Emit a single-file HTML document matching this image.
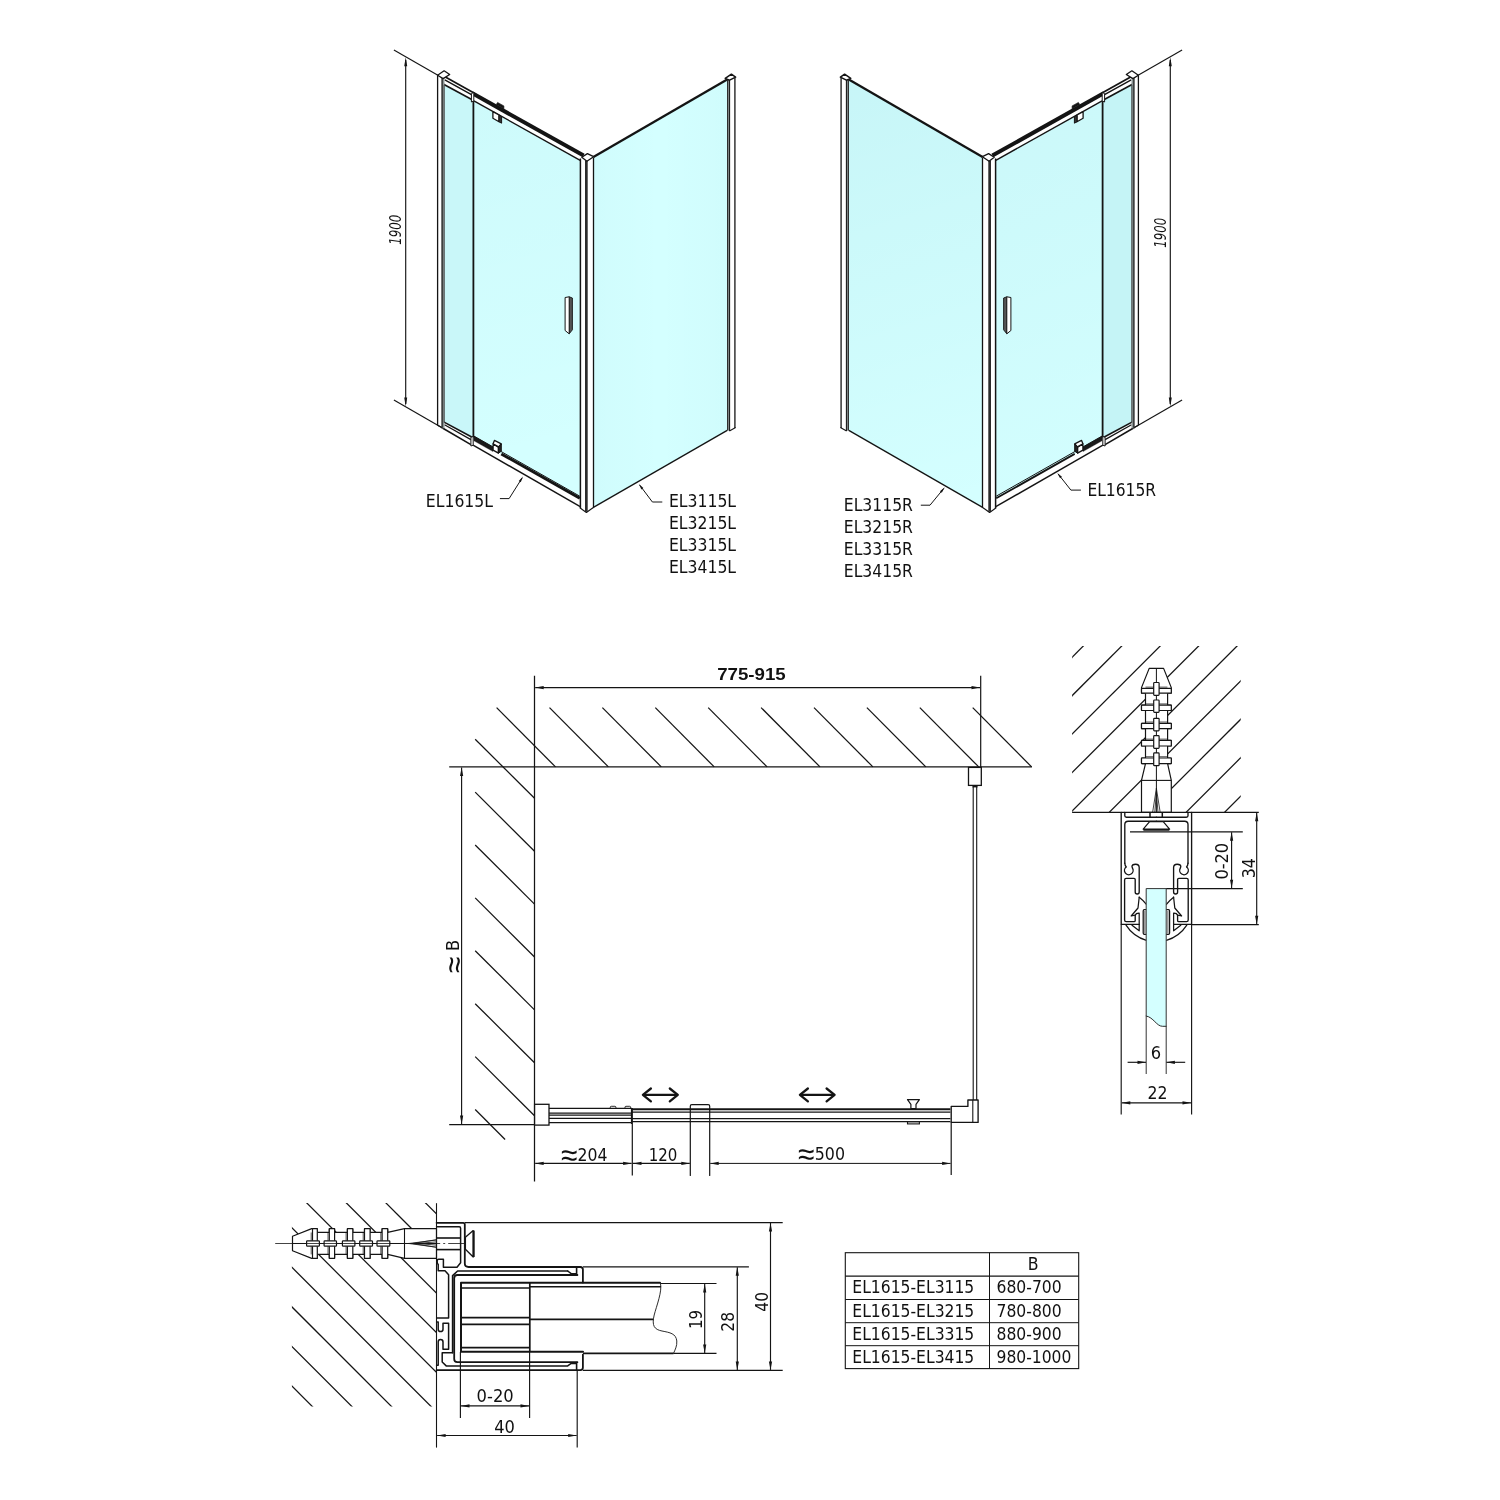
<!DOCTYPE html>
<html lang="en"><head><meta charset="utf-8"><title>Shower enclosure EL1615 / EL3x15 - dimensions</title>
<style>
html,body{margin:0;padding:0;background:#fff}
body{width:1500px;height:1500px;overflow:hidden}
svg{display:block;will-change:transform}
svg text{font-family:"DejaVu Sans Condensed","Liberation Sans",sans-serif;fill:#111}
</style></head><body>
<svg width="1500" height="1500" viewBox="0 0 1500 1500">
<rect width="1500" height="1500" fill="#fff"/>
<!-- iso -->
<g>
<g>
<linearGradient id="gLd" gradientUnits="userSpaceOnUse" x1="474" y1="100" x2="580" y2="450"><stop offset="0" stop-color="#006482" stop-opacity="0.03"/><stop offset="1" stop-color="#006482" stop-opacity="0"/></linearGradient>
<linearGradient id="gLs" gradientUnits="userSpaceOnUse" x1="593" y1="300" x2="727" y2="300"><stop offset="0" stop-color="#006482" stop-opacity="0.02"/><stop offset="0.5" stop-color="#006482" stop-opacity="0"/><stop offset="1" stop-color="#006482" stop-opacity="0.02"/></linearGradient>
<polygon points="593.4,157.3 727.2,79.6 727.2,430.4 593.4,507.4" fill="#d4ffff" stroke="#d4ffff" stroke-width="0.1" stroke-linejoin="round"/>
<polygon points="593.4,157.3 727.2,79.6 727.2,430.4 593.4,507.4" fill="url(#gLs)"/>
<line x1="593.4" y1="507.4" x2="727.2" y2="430.4" stroke="#141414" stroke-width="1.3"/>
<line x1="593.4" y1="157" x2="727.6" y2="79.2" stroke="#141414" stroke-width="2.3"/>
<polygon points="727.2,79.4 735,77.4 735,427.8 729.4,431 727.2,430.4" fill="#fff" stroke="#fff" stroke-width="0.1" stroke-linejoin="round"/>
<rect x="727.2" y="79.4" width="2.8" height="351.2" fill="#8a8f8f" stroke="#8a8f8f" stroke-width="0.1"/>
<line x1="727.6" y1="79.4" x2="727.6" y2="430.6" stroke="#141414" stroke-width="0.9"/>
<line x1="729.6" y1="80" x2="729.6" y2="431" stroke="#141414" stroke-width="1"/>
<line x1="734.9" y1="77.4" x2="734.9" y2="427.9" stroke="#333" stroke-width="1.5"/>
<line x1="729.4" y1="431" x2="735.6" y2="427.5" stroke="#141414" stroke-width="1.1"/>
<polygon points="725.2,78.4 731.4,74.2 735.6,77.2 729.6,80.2" fill="#fff" stroke="#141414" stroke-width="1.5" stroke-linejoin="round"/>
<polygon points="444,84.5 580.2,160.3 580.2,498.6 444,422.2" fill="#d4ffff" stroke="#d4ffff" stroke-width="0.1" stroke-linejoin="round"/>
<polygon points="444,84.5 473.4,100.8 473.4,437.6 444,422.2" fill="#006482" fill-opacity="0.05"/>
<polygon points="473.4,100.8 580.2,160.3 580.2,498.6 473.4,437.6" fill="url(#gLd)"/>
<line x1="473.4" y1="100.5" x2="473.4" y2="437.6" stroke="#141414" stroke-width="1.8"/>
<polygon points="443.1,77.2 444.5,76.5 585,154.9 580.2,160.3 443.1,84" fill="#fff" stroke="#fff" stroke-width="0.1" stroke-linejoin="round"/>
<line x1="444.5" y1="76.5" x2="474" y2="93" stroke="#141414" stroke-width="1.7"/>
<line x1="444.8" y1="79.8" x2="472.4" y2="95.1" stroke="#141414" stroke-width="1.4"/>
<line x1="443.1" y1="84" x2="471.7" y2="99.5" stroke="#141414" stroke-width="1.6"/>
<line x1="472.4" y1="93.3" x2="583.6" y2="155.6" stroke="#141414" stroke-width="4"/>
<line x1="473.9" y1="100.9" x2="580.2" y2="160.3" stroke="#141414" stroke-width="1.4"/>
<polygon points="471.4,93.6 473.8,92.4 473.8,100.8 471.4,102" fill="#fff" stroke="#141414" stroke-width="1" stroke-linejoin="round"/>
<polygon points="496.3,104.4 497.6,102.4 503.9,105.9 503.9,108.8" fill="#151515" stroke="#141414" stroke-width="0.6" stroke-linejoin="round"/>
<polygon points="492.9,111.6 499,115 499,121.8 492.9,118.3" fill="#fff" stroke="#141414" stroke-width="1.3" stroke-linejoin="round"/>
<polygon points="499,115.2 501.6,116.6 501.6,123.2 499,121.8" fill="#333" stroke="#141414" stroke-width="1" stroke-linejoin="round"/>
<polygon points="443.1,421.6 580.2,498.6 580.2,506.7 441.6,427.5" fill="#fff" stroke="#fff" stroke-width="0.1" stroke-linejoin="round"/>
<line x1="443.1" y1="421.6" x2="471.7" y2="437" stroke="#141414" stroke-width="1.6"/>
<line x1="444.5" y1="424.8" x2="470.9" y2="439.6" stroke="#141414" stroke-width="1.3"/>
<line x1="441.6" y1="427.5" x2="470.9" y2="444.6" stroke="#141414" stroke-width="1.6"/>
<polygon points="473.9,436.1 493,446.9 493,451.6 473.9,440.8" fill="#1a1a1a" stroke="#141414" stroke-width="0.3" stroke-linejoin="round"/>
<line x1="473.9" y1="436.1" x2="579.8" y2="496.2" stroke="#141414" stroke-width="1"/>
<line x1="501.3" y1="453.9" x2="579.8" y2="498.3" stroke="#141414" stroke-width="2.9"/>
<line x1="473.1" y1="445.1" x2="580.2" y2="506.7" stroke="#141414" stroke-width="1.4"/>
<polygon points="470.9,437.4 473.2,436.4 473.2,445.2 470.9,446" fill="#fff" stroke="#141414" stroke-width="1" stroke-linejoin="round"/>
<polygon points="493.1,444 498.4,447.2 498.4,453.1 493.1,450.1" fill="#fff" stroke="#141414" stroke-width="1.3" stroke-linejoin="round"/>
<polygon points="493.1,443.7 494.4,440.4 501.3,443.8 498.6,446.9" fill="#fff" stroke="#141414" stroke-width="1.3" stroke-linejoin="round"/>
<polygon points="498.4,447.2 501.3,444 501.3,451.2 498.4,453.3" fill="#222" stroke="#141414" stroke-width="1" stroke-linejoin="round"/>
<polygon points="437.6,75.2 443.1,78.4 443.1,428.4 437.6,425.2" fill="#fff" stroke="#fff" stroke-width="0.1" stroke-linejoin="round"/>
<rect x="441.6" y="78" width="2.8" height="350" fill="#8a9494" stroke="#8a9494" stroke-width="0.1"/>
<line x1="437.6" y1="75.2" x2="437.6" y2="425.2" stroke="#141414" stroke-width="1.3"/>
<line x1="442.1" y1="78.2" x2="442.1" y2="428" stroke="#141414" stroke-width="1.1"/>
<line x1="444.2" y1="85" x2="444.2" y2="422.6" stroke="#333" stroke-width="0.8"/>
<line x1="437.6" y1="425.2" x2="441.8" y2="427.6" stroke="#141414" stroke-width="1.1"/>
<polygon points="437.6,75.2 444.1,70.8 449.7,74.5 443.1,78.6" fill="#fff" stroke="#141414" stroke-width="1.3" stroke-linejoin="round"/>
<polygon points="580.2,158.6 586.8,161.4 593.4,157.6 593.4,507.4 586.4,512.5 580.2,508.1" fill="#fff" stroke="#fff" stroke-width="0.1" stroke-linejoin="round"/>
<line x1="580.4" y1="158.6" x2="580.4" y2="508.1" stroke="#141414" stroke-width="1.5"/>
<line x1="586.35" y1="160.8" x2="586.35" y2="511.8" stroke="#2c2c2c" stroke-width="2.7"/>
<line x1="593.5" y1="157.6" x2="593.5" y2="507.4" stroke="#141414" stroke-width="1.3"/>
<polyline points="580.2,508.1 586.4,512.5 593.4,507.4" fill="none" stroke="#141414" stroke-width="1.2" stroke-linejoin="round" stroke-linecap="round"/>
<polygon points="581.8,157.2 587.4,153.6 593.6,156.7 586.9,161.2" fill="#fff" stroke="#141414" stroke-width="1.3" stroke-linejoin="round"/>
<polygon points="569.2,296.8 572.4,298 572.4,329.8 569.2,333.8" fill="#555" stroke="#141414" stroke-width="0.9" stroke-linejoin="round"/>
<polygon points="565.1,297.5 569.2,296.8 569.2,333.8 565.1,330.5" fill="#fff" stroke="#141414" stroke-width="1" stroke-linejoin="round"/>
<line x1="393.9" y1="50" x2="437.9" y2="75.3" stroke="#141414" stroke-width="1.15"/>
<line x1="393.9" y1="399.9" x2="441.6" y2="427.5" stroke="#141414" stroke-width="1.15"/>
<line x1="405.7" y1="60" x2="405.7" y2="404" stroke="#141414" stroke-width="1.15"/>
<polygon points="405.7,57.2 407.2,66.2 404.2,66.2" fill="#141414"/>
<polygon points="405.7,406.6 404.2,397.6 407.2,397.6" fill="#141414"/>
</g>
<g transform="translate(1576 0) scale(-1 1)">
<linearGradient id="gRd" gradientUnits="userSpaceOnUse" x1="580" y1="160" x2="474" y2="440"><stop offset="0" stop-color="#006482" stop-opacity="0.04"/><stop offset="1" stop-color="#006482" stop-opacity="0.01"/></linearGradient>
<linearGradient id="gRs" gradientUnits="userSpaceOnUse" x1="728" y1="80" x2="594" y2="500"><stop offset="0" stop-color="#006482" stop-opacity="0.06"/><stop offset="1" stop-color="#006482" stop-opacity="0"/></linearGradient>
<polygon points="593.4,157.3 727.2,79.6 727.2,430.4 593.4,507.4" fill="#d4ffff" stroke="#d4ffff" stroke-width="0.1" stroke-linejoin="round"/>
<polygon points="593.4,157.3 727.2,79.6 727.2,430.4 593.4,507.4" fill="url(#gRs)"/>
<line x1="593.4" y1="507.4" x2="727.2" y2="430.4" stroke="#141414" stroke-width="1.3"/>
<line x1="593.4" y1="157" x2="727.6" y2="79.2" stroke="#141414" stroke-width="2.3"/>
<polygon points="727.2,79.4 735,77.4 735,427.8 729.4,431 727.2,430.4" fill="#fff" stroke="#fff" stroke-width="0.1" stroke-linejoin="round"/>
<rect x="727.2" y="79.4" width="2.8" height="351.2" fill="#8a8f8f" stroke="#8a8f8f" stroke-width="0.1"/>
<line x1="727.6" y1="79.4" x2="727.6" y2="430.6" stroke="#141414" stroke-width="0.9"/>
<line x1="729.6" y1="80" x2="729.6" y2="431" stroke="#141414" stroke-width="1"/>
<line x1="734.9" y1="77.4" x2="734.9" y2="427.9" stroke="#333" stroke-width="1.5"/>
<line x1="729.4" y1="431" x2="735.6" y2="427.5" stroke="#141414" stroke-width="1.1"/>
<polygon points="725.2,78.4 731.4,74.2 735.6,77.2 729.6,80.2" fill="#fff" stroke="#141414" stroke-width="1.5" stroke-linejoin="round"/>
<polygon points="444,84.5 580.2,160.3 580.2,498.6 444,422.2" fill="#d4ffff" stroke="#d4ffff" stroke-width="0.1" stroke-linejoin="round"/>
<polygon points="444,84.5 473.4,100.8 473.4,437.6 444,422.2" fill="#006482" fill-opacity="0.07"/>
<polygon points="473.4,100.8 580.2,160.3 580.2,498.6 473.4,437.6" fill="url(#gRd)"/>
<line x1="473.4" y1="100.5" x2="473.4" y2="437.6" stroke="#141414" stroke-width="1.8"/>
<polygon points="443.1,77.2 444.5,76.5 585,154.9 580.2,160.3 443.1,84" fill="#fff" stroke="#fff" stroke-width="0.1" stroke-linejoin="round"/>
<line x1="444.5" y1="76.5" x2="474" y2="93" stroke="#141414" stroke-width="1.7"/>
<line x1="444.8" y1="79.8" x2="472.4" y2="95.1" stroke="#141414" stroke-width="1.4"/>
<line x1="443.1" y1="84" x2="471.7" y2="99.5" stroke="#141414" stroke-width="1.6"/>
<line x1="472.4" y1="93.3" x2="583.6" y2="155.6" stroke="#141414" stroke-width="4"/>
<line x1="473.9" y1="100.9" x2="580.2" y2="160.3" stroke="#141414" stroke-width="1.4"/>
<polygon points="471.4,93.6 473.8,92.4 473.8,100.8 471.4,102" fill="#fff" stroke="#141414" stroke-width="1" stroke-linejoin="round"/>
<polygon points="496.3,104.4 497.6,102.4 503.9,105.9 503.9,108.8" fill="#151515" stroke="#141414" stroke-width="0.6" stroke-linejoin="round"/>
<polygon points="492.9,111.6 499,115 499,121.8 492.9,118.3" fill="#fff" stroke="#141414" stroke-width="1.3" stroke-linejoin="round"/>
<polygon points="499,115.2 501.6,116.6 501.6,123.2 499,121.8" fill="#333" stroke="#141414" stroke-width="1" stroke-linejoin="round"/>
<polygon points="443.1,421.6 580.2,498.6 580.2,506.7 441.6,427.5" fill="#fff" stroke="#fff" stroke-width="0.1" stroke-linejoin="round"/>
<line x1="443.1" y1="421.6" x2="471.7" y2="437" stroke="#141414" stroke-width="1.6"/>
<line x1="444.5" y1="424.8" x2="470.9" y2="439.6" stroke="#141414" stroke-width="1.3"/>
<line x1="441.6" y1="427.5" x2="470.9" y2="444.6" stroke="#141414" stroke-width="1.6"/>
<polygon points="473.9,436.1 493,446.9 493,451.6 473.9,440.8" fill="#1a1a1a" stroke="#141414" stroke-width="0.3" stroke-linejoin="round"/>
<line x1="473.9" y1="436.1" x2="579.8" y2="496.2" stroke="#141414" stroke-width="1"/>
<line x1="501.3" y1="453.9" x2="579.8" y2="498.3" stroke="#141414" stroke-width="1.8"/>
<line x1="473.1" y1="445.1" x2="580.2" y2="506.7" stroke="#141414" stroke-width="1.4"/>
<polygon points="470.9,437.4 473.2,436.4 473.2,445.2 470.9,446" fill="#fff" stroke="#141414" stroke-width="1" stroke-linejoin="round"/>
<polygon points="493.1,444 498.4,447.2 498.4,453.1 493.1,450.1" fill="#fff" stroke="#141414" stroke-width="1.3" stroke-linejoin="round"/>
<polygon points="493.1,443.7 494.4,440.4 501.3,443.8 498.6,446.9" fill="#fff" stroke="#141414" stroke-width="1.3" stroke-linejoin="round"/>
<polygon points="498.4,447.2 501.3,444 501.3,451.2 498.4,453.3" fill="#222" stroke="#141414" stroke-width="1" stroke-linejoin="round"/>
<polygon points="437.6,75.2 443.1,78.4 443.1,428.4 437.6,425.2" fill="#fff" stroke="#fff" stroke-width="0.1" stroke-linejoin="round"/>
<rect x="441.6" y="78" width="2.8" height="350" fill="#8a9494" stroke="#8a9494" stroke-width="0.1"/>
<line x1="437.6" y1="75.2" x2="437.6" y2="425.2" stroke="#141414" stroke-width="1.3"/>
<line x1="442.1" y1="78.2" x2="442.1" y2="428" stroke="#141414" stroke-width="1.1"/>
<line x1="444.2" y1="85" x2="444.2" y2="422.6" stroke="#333" stroke-width="0.8"/>
<line x1="437.6" y1="425.2" x2="441.8" y2="427.6" stroke="#141414" stroke-width="1.1"/>
<polygon points="437.6,75.2 444.1,70.8 449.7,74.5 443.1,78.6" fill="#fff" stroke="#141414" stroke-width="1.3" stroke-linejoin="round"/>
<polygon points="580.2,158.6 586.8,161.4 593.4,157.6 593.4,507.4 586.4,512.5 580.2,508.1" fill="#fff" stroke="#fff" stroke-width="0.1" stroke-linejoin="round"/>
<line x1="580.4" y1="158.6" x2="580.4" y2="508.1" stroke="#141414" stroke-width="1.5"/>
<line x1="586.35" y1="160.8" x2="586.35" y2="511.8" stroke="#2c2c2c" stroke-width="2.7"/>
<line x1="593.5" y1="157.6" x2="593.5" y2="507.4" stroke="#141414" stroke-width="1.3"/>
<polyline points="580.2,508.1 586.4,512.5 593.4,507.4" fill="none" stroke="#141414" stroke-width="1.2" stroke-linejoin="round" stroke-linecap="round"/>
<polygon points="581.8,157.2 587.4,153.6 593.6,156.7 586.9,161.2" fill="#fff" stroke="#141414" stroke-width="1.3" stroke-linejoin="round"/>
<polygon points="569.2,296.8 572.4,298 572.4,329.8 569.2,333.8" fill="#555" stroke="#141414" stroke-width="0.9" stroke-linejoin="round"/>
<polygon points="565.1,297.5 569.2,296.8 569.2,333.8 565.1,330.5" fill="#fff" stroke="#141414" stroke-width="1" stroke-linejoin="round"/>
<line x1="393.9" y1="50" x2="437.9" y2="75.3" stroke="#141414" stroke-width="1.15"/>
<line x1="393.9" y1="399.9" x2="441.6" y2="427.5" stroke="#141414" stroke-width="1.15"/>
<line x1="405.7" y1="60" x2="405.7" y2="404" stroke="#141414" stroke-width="1.15"/>
<polygon points="405.7,57.2 407.2,66.2 404.2,66.2" fill="#141414"/>
<polygon points="405.7,406.6 404.2,397.6 407.2,397.6" fill="#141414"/>
</g>
<text x="401" y="244.8" font-size="16.5" textLength="30.2" lengthAdjust="spacingAndGlyphs" font-style="italic" transform="rotate(-90 401 244.8)">1900</text>
<text x="1166.4" y="247.7" font-size="16.5" textLength="29.8" lengthAdjust="spacingAndGlyphs" font-style="italic" transform="rotate(-90 1166.4 247.7)">1900</text>
<text x="425.8" y="506.7" font-size="17" textLength="67.2" lengthAdjust="spacingAndGlyphs">EL1615L</text>
<polyline points="500.3,498.6 509.1,498.6 521.8,478.5" fill="none" stroke="#141414" stroke-width="1" stroke-linejoin="round" stroke-linecap="round"/>
<polygon points="523,476.6 520.81,482.31 518.78,481.03" fill="#141414"/>
<text x="668.9" y="507.1" font-size="17" textLength="67.2" lengthAdjust="spacingAndGlyphs">EL3115L</text>
<text x="668.9" y="529.1" font-size="17" textLength="67.2" lengthAdjust="spacingAndGlyphs">EL3215L</text>
<text x="668.9" y="551.1" font-size="17" textLength="67.2" lengthAdjust="spacingAndGlyphs">EL3315L</text>
<text x="668.9" y="573.1" font-size="17" textLength="67.2" lengthAdjust="spacingAndGlyphs">EL3415L</text>
<polyline points="661.9,502 652.4,502 640,485.5" fill="none" stroke="#141414" stroke-width="1" stroke-linejoin="round" stroke-linecap="round"/>
<polygon points="638.8,483.9 643.36,487.98 641.44,489.42" fill="#141414"/>
<text x="843.8" y="510.7" font-size="17" textLength="69.1" lengthAdjust="spacingAndGlyphs">EL3115R</text>
<text x="843.8" y="532.7" font-size="17" textLength="69.1" lengthAdjust="spacingAndGlyphs">EL3215R</text>
<text x="843.8" y="554.7" font-size="17" textLength="69.1" lengthAdjust="spacingAndGlyphs">EL3315R</text>
<text x="843.8" y="576.7" font-size="17" textLength="69.1" lengthAdjust="spacingAndGlyphs">EL3415R</text>
<polyline points="921.2,505.2 930,505.2 943.5,488.8" fill="none" stroke="#141414" stroke-width="1" stroke-linejoin="round" stroke-linecap="round"/>
<polygon points="944.7,487.3 941.82,492.7 939.96,491.17" fill="#141414"/>
<text x="1087.4" y="495.7" font-size="17" textLength="68.7" lengthAdjust="spacingAndGlyphs">EL1615R</text>
<polyline points="1080.5,490.1 1070.9,490.1 1058.5,474.4" fill="none" stroke="#141414" stroke-width="1" stroke-linejoin="round" stroke-linecap="round"/>
<polygon points="1057.3,472.9 1061.96,476.86 1060.08,478.35" fill="#141414"/>
</g>
<!-- plan -->
<g>
<line x1="496.6" y1="707.6" x2="555.5" y2="766.9" stroke="#141414" stroke-width="1.25"/>
<line x1="549.5" y1="707.6" x2="608.4" y2="766.9" stroke="#141414" stroke-width="1.25"/>
<line x1="602.4" y1="707.6" x2="661.3" y2="766.9" stroke="#141414" stroke-width="1.25"/>
<line x1="655.3" y1="707.6" x2="714.2" y2="766.9" stroke="#141414" stroke-width="1.25"/>
<line x1="708.2" y1="707.6" x2="767.1" y2="766.9" stroke="#141414" stroke-width="1.25"/>
<line x1="761.1" y1="707.6" x2="820" y2="766.9" stroke="#141414" stroke-width="1.25"/>
<line x1="814" y1="707.6" x2="872.9" y2="766.9" stroke="#141414" stroke-width="1.25"/>
<line x1="866.9" y1="707.6" x2="925.8" y2="766.9" stroke="#141414" stroke-width="1.25"/>
<line x1="919.8" y1="707.6" x2="978.7" y2="766.9" stroke="#141414" stroke-width="1.25"/>
<line x1="972.7" y1="707.6" x2="1031.6" y2="766.9" stroke="#141414" stroke-width="1.25"/>
<line x1="475.2" y1="739.2" x2="534.5" y2="798.3" stroke="#141414" stroke-width="1.25"/>
<line x1="475.2" y1="792.1" x2="534.5" y2="851.2" stroke="#141414" stroke-width="1.25"/>
<line x1="475.2" y1="845" x2="534.5" y2="904.1" stroke="#141414" stroke-width="1.25"/>
<line x1="475.2" y1="897.9" x2="534.5" y2="957" stroke="#141414" stroke-width="1.25"/>
<line x1="475.2" y1="950.8" x2="534.5" y2="1009.9" stroke="#141414" stroke-width="1.25"/>
<line x1="475.2" y1="1003.7" x2="534.5" y2="1062.8" stroke="#141414" stroke-width="1.25"/>
<line x1="475.2" y1="1056.6" x2="534.5" y2="1115.7" stroke="#141414" stroke-width="1.25"/>
<line x1="475.2" y1="1109.5" x2="505.1" y2="1139.5" stroke="#141414" stroke-width="1.25"/>
<line x1="534.5" y1="675.8" x2="534.5" y2="1181.5" stroke="#141414" stroke-width="1.25"/>
<line x1="449.2" y1="766.9" x2="1031.9" y2="766.9" stroke="#141414" stroke-width="1.3"/>
<line x1="980.7" y1="675.8" x2="980.7" y2="786" stroke="#141414" stroke-width="1.2"/>
<line x1="535.2" y1="687.6" x2="980" y2="687.6" stroke="#141414" stroke-width="1.15"/>
<polygon points="535.2,687.6 543.7,686 543.7,689.2" fill="#141414"/>
<polygon points="980,687.6 971.5,689.2 971.5,686" fill="#141414"/>
<text x="717.2" y="679.6" font-size="16.2" textLength="68.6" lengthAdjust="spacingAndGlyphs" font-weight="bold" style='font-family:"Liberation Sans",sans-serif'>775-915</text>
<line x1="449.2" y1="1124.6" x2="534.5" y2="1124.6" stroke="#141414" stroke-width="1.15"/>
<line x1="461.6" y1="767.6" x2="461.6" y2="1124" stroke="#141414" stroke-width="1.15"/>
<polygon points="461.6,767.6 463.2,776.1 460,776.1" fill="#141414"/>
<polygon points="461.6,1124 460,1115.5 463.2,1115.5" fill="#141414"/>
<text x="464.6" y="973.1" font-size="32" textLength="16.4" lengthAdjust="spacingAndGlyphs" style='font-family:"Liberation Sans",sans-serif' transform="rotate(-90 464.6 973.1)">≈</text>
<text x="459" y="951" font-size="18.2" transform="rotate(-90 459 951)">B</text>
<rect x="534.6" y="1104.3" width="14.4" height="20.8" fill="#fff" stroke="#141414" stroke-width="1.3"/>
<line x1="549" y1="1108.4" x2="631.6" y2="1108.4" stroke="#141414" stroke-width="1.2"/>
<line x1="549" y1="1113.1" x2="631.6" y2="1113.1" stroke="#141414" stroke-width="1.1"/>
<line x1="549" y1="1115.1" x2="631.6" y2="1115.1" stroke="#141414" stroke-width="1.1"/>
<line x1="549" y1="1118.4" x2="631.6" y2="1118.4" stroke="#141414" stroke-width="1.1"/>
<line x1="549" y1="1122.7" x2="631.6" y2="1122.7" stroke="#141414" stroke-width="1.2"/>
<path d="M610.3 1108.4V1107.2Q610.3 1106.3 611.3 1106.3H614.9Q615.9 1106.3 615.9 1107.2V1108.4" fill="none" stroke="#141414" stroke-width="0.9" stroke-linejoin="round" stroke-linecap="round"/>
<path d="M625 1108.4V1107.2Q625 1106.3 626 1106.3H629.6Q630.6 1106.3 630.6 1107.2V1108.4" fill="none" stroke="#141414" stroke-width="0.9" stroke-linejoin="round" stroke-linecap="round"/>
<line x1="631.6" y1="1109.3" x2="950.4" y2="1109.3" stroke="#141414" stroke-width="1.9"/>
<line x1="631.6" y1="1112.2" x2="950.4" y2="1112.2" stroke="#141414" stroke-width="1.3"/>
<line x1="631.6" y1="1118.7" x2="950.4" y2="1118.7" stroke="#141414" stroke-width="1.3"/>
<line x1="631.6" y1="1121.7" x2="950.4" y2="1121.7" stroke="#141414" stroke-width="1.3"/>
<line x1="631.9" y1="1108" x2="631.9" y2="1124" stroke="#141414" stroke-width="2"/>
<path d="M690.3 1175.5V1106.2Q690.3 1104.7 691.8 1104.7H708.2Q709.7 1104.7 709.7 1106.2V1175.5" fill="none" stroke="#141414" stroke-width="1.2" stroke-linejoin="round" stroke-linecap="round"/>
<line x1="632.3" y1="1124" x2="632.3" y2="1175.5" stroke="#141414" stroke-width="1.2"/>
<line x1="951.2" y1="1122.4" x2="951.2" y2="1175" stroke="#141414" stroke-width="1.2"/>
<line x1="535.2" y1="1163.4" x2="631.6" y2="1163.4" stroke="#141414" stroke-width="1.15"/>
<polygon points="535.2,1163.4 543.7,1161.8 543.7,1165" fill="#141414"/>
<polygon points="631.6,1163.4 623.1,1165 623.1,1161.8" fill="#141414"/>
<line x1="633" y1="1163.4" x2="689.8" y2="1163.4" stroke="#141414" stroke-width="1.15"/>
<polygon points="633,1163.4 641.5,1161.8 641.5,1165" fill="#141414"/>
<polygon points="689.8,1163.4 681.3,1165 681.3,1161.8" fill="#141414"/>
<line x1="710.2" y1="1163.4" x2="950.6" y2="1163.4" stroke="#141414" stroke-width="1"/>
<polygon points="710.2,1163.4 718.7,1161.8 718.7,1165" fill="#141414"/>
<polygon points="950.6,1163.4 942.1,1165 942.1,1161.8" fill="#141414"/>
<text x="560.9" y="1165.6" font-size="32" textLength="16.4" lengthAdjust="spacingAndGlyphs" style='font-family:"Liberation Sans",sans-serif'>≈</text>
<text x="577.6" y="1160.6" font-size="18" textLength="29.9" lengthAdjust="spacingAndGlyphs">204</text>
<text x="648.7" y="1160.6" font-size="18" textLength="28.6" lengthAdjust="spacingAndGlyphs">120</text>
<text x="797.9" y="1165.2" font-size="32" textLength="16.4" lengthAdjust="spacingAndGlyphs" style='font-family:"Liberation Sans",sans-serif'>≈</text>
<text x="814.8" y="1160.2" font-size="18" textLength="30.2" lengthAdjust="spacingAndGlyphs">500</text>
<line x1="643.3" y1="1094.9" x2="677.4" y2="1094.9" stroke="#141414" stroke-width="2.2"/>
<polyline points="650.9,1088.5 642.9,1094.9 650.9,1101.3" fill="none" stroke="#141414" stroke-width="2.3" stroke-linejoin="round" stroke-linecap="round" stroke-linecap="butt" stroke-linejoin="miter"/>
<polyline points="669.8,1088.5 677.8,1094.9 669.8,1101.3" fill="none" stroke="#141414" stroke-width="2.3" stroke-linejoin="round" stroke-linecap="round" stroke-linecap="butt" stroke-linejoin="miter"/>
<line x1="800.3" y1="1094.9" x2="834.2" y2="1094.9" stroke="#141414" stroke-width="2.2"/>
<polyline points="807.9,1088.5 799.9,1094.9 807.9,1101.3" fill="none" stroke="#141414" stroke-width="2.3" stroke-linejoin="round" stroke-linecap="round" stroke-linecap="butt" stroke-linejoin="miter"/>
<polyline points="826.6,1088.5 834.6,1094.9 826.6,1101.3" fill="none" stroke="#141414" stroke-width="2.3" stroke-linejoin="round" stroke-linecap="round" stroke-linecap="butt" stroke-linejoin="miter"/>
<polygon points="907.5,1099.6 919.4,1099.6 916,1104.3 916,1108.6 910.9,1108.6 910.9,1104.3" fill="#fff" stroke="#141414" stroke-width="1.2" stroke-linejoin="round"/>
<rect x="907.5" y="1121.9" width="11.9" height="2" fill="#fff" stroke="#141414" stroke-width="1.1"/>
<polygon points="951.2,1106.4 967.9,1106.4 967.9,1100 978.1,1100 978.1,1122.4 951.2,1122.4" fill="#fff" stroke="#141414" stroke-width="1.35" stroke-linejoin="round"/>
<line x1="972.8" y1="1100" x2="972.8" y2="1122.4" stroke="#141414" stroke-width="1.1"/>
<line x1="973.2" y1="787" x2="973.2" y2="1100" stroke="#141414" stroke-width="1.1"/>
<line x1="976.7" y1="787" x2="976.7" y2="1100" stroke="#141414" stroke-width="1.1"/>
<line x1="972.4" y1="786.6" x2="977.6" y2="786.6" stroke="#141414" stroke-width="1.6"/>
<rect x="968.5" y="767.4" width="12.8" height="18" fill="#fff" stroke="#141414" stroke-width="1.3"/>
</g>
<!-- detail_r -->
<g>
<clipPath id="hcR"><rect x="1072.1" y="646" width="168.6" height="166.4"/></clipPath>
<g clip-path="url(#hcR)"><line x1="1060" y1="669.3" x2="1250" y2="479.3" stroke="#141414" stroke-width="1.25"/><line x1="1060" y1="707.75" x2="1250" y2="517.75" stroke="#141414" stroke-width="1.25"/><line x1="1060" y1="746.2" x2="1250" y2="556.2" stroke="#141414" stroke-width="1.25"/><line x1="1060" y1="784.65" x2="1250" y2="594.65" stroke="#141414" stroke-width="1.25"/><line x1="1060" y1="823.1" x2="1250" y2="633.1" stroke="#141414" stroke-width="1.25"/><line x1="1060" y1="861.55" x2="1250" y2="671.55" stroke="#141414" stroke-width="1.25"/><line x1="1060" y1="900" x2="1250" y2="710" stroke="#141414" stroke-width="1.25"/><line x1="1060" y1="938.45" x2="1250" y2="748.45" stroke="#141414" stroke-width="1.25"/><line x1="1060" y1="976.9" x2="1250" y2="786.9" stroke="#141414" stroke-width="1.25"/></g>
<g id="dowel">
<path d="M1149.2 668.4H1163.6L1171.3 687.6V693.2H1167.6V705.2H1171.3V710.5H1167.6V723.3H1171.3V728.7H1167.6V740.4H1171.3V746H1167.6V758H1171.3V763.6H1167.6L1171.3 780.4V812.4H1141.5V780.4L1145.5 763.6H1141.5V758H1145.5V746H1141.5V740.4H1145.5V728.7H1141.5V723.3H1145.5V710.5H1141.5V705.2H1145.5V693.2H1141.5V687.6Z" fill="#fff" stroke="#141414" stroke-width="1.2" stroke-linejoin="round" stroke-linecap="round"/>
<rect x="1141.5" y="688.4" width="29.8" height="4.8" fill="#fff" stroke="#141414" stroke-width="1.2" rx="0.8"/>
<line x1="1145.5" y1="687.1" x2="1167.4" y2="687.1" stroke="#141414" stroke-width="0.7"/>
<rect x="1141.5" y="705.2" width="29.8" height="5.3" fill="#fff" stroke="#141414" stroke-width="1.2" rx="0.8"/>
<line x1="1145.5" y1="703.9" x2="1167.4" y2="703.9" stroke="#141414" stroke-width="0.7"/>
<rect x="1141.5" y="723.3" width="29.8" height="5.4" fill="#fff" stroke="#141414" stroke-width="1.2" rx="0.8"/>
<line x1="1145.5" y1="722" x2="1167.4" y2="722" stroke="#141414" stroke-width="0.7"/>
<rect x="1141.5" y="740.4" width="29.8" height="5.6" fill="#fff" stroke="#141414" stroke-width="1.2" rx="0.8"/>
<line x1="1145.5" y1="739.1" x2="1167.4" y2="739.1" stroke="#141414" stroke-width="0.7"/>
<rect x="1141.5" y="758" width="29.8" height="5.6" fill="#fff" stroke="#141414" stroke-width="1.2" rx="0.8"/>
<line x1="1145.5" y1="756.7" x2="1167.4" y2="756.7" stroke="#141414" stroke-width="0.7"/>
<line x1="1141.5" y1="780.4" x2="1171.3" y2="780.4" stroke="#141414" stroke-width="1.1"/>
<line x1="1156.4" y1="668.4" x2="1156.4" y2="812" stroke="#141414" stroke-width="1"/>
<rect x="1153.7" y="682.5" width="5.4" height="12.8" fill="#fff" stroke="#141414" stroke-width="1.2" rx="0.8"/>
<rect x="1153.7" y="700" width="5.4" height="12.4" fill="#fff" stroke="#141414" stroke-width="1.2" rx="0.8"/>
<rect x="1153.7" y="718.3" width="5.4" height="12.5" fill="#fff" stroke="#141414" stroke-width="1.2" rx="0.8"/>
<rect x="1153.7" y="735.6" width="5.4" height="12.8" fill="#fff" stroke="#141414" stroke-width="1.2" rx="0.8"/>
<rect x="1153.7" y="752.9" width="5.4" height="12.8" fill="#fff" stroke="#141414" stroke-width="1.2" rx="0.8"/>
<path d="M1156.4 788.4L1152.6 812.4M1156.4 788.4L1160.2 812.4M1156.4 792L1154.8 812.4M1156.4 792L1158.0 812.4" fill="none" stroke="#141414" stroke-width="0.8" stroke-linejoin="round" stroke-linecap="round"/>
</g>
<rect x="1121.2" y="812.4" width="70.4" height="112" fill="#fff" stroke="#fff" stroke-width="0.1"/>
<line x1="1072.1" y1="812.4" x2="1258.8" y2="812.4" stroke="#141414" stroke-width="1.3"/>
<path d="M1121.2 812.4 L1121.2 924.4 L1139.2 924.4" fill="none" stroke="#141414" stroke-width="1.35" stroke-linejoin="round" stroke-linecap="round"/>
<path d="M1124.8 812.4 L1124.8 815.8 Q1124.8 817.2 1126.4 817.2 L1156.4 817.2" fill="none" stroke="#141414" stroke-width="1.35" stroke-linejoin="round" stroke-linecap="round"/>
<path d="M1124.8 863.2 L1124.8 824.6 Q1124.8 821.2 1128.2 821.2 L1156.4 821.2" fill="none" stroke="#141414" stroke-width="1.35" stroke-linejoin="round" stroke-linecap="round"/>
<path d="M1124.8 863.2 Q1124.9 865.6 1126.3 866.9 A4.3 4.3 0 1 0 1132.5 868.2 L1132 866.6 Q1132 864.2 1135.6 864.2 Q1139.2 864.2 1139.2 867.6 L1139.2 892 A2 2 0 0 1 1135.2 892 L1135.2 879.6 Q1135.2 878.4 1134 878.4 L1126.2 878.4 Q1124.6 878.4 1124.6 880 L1124.6 920 Q1124.6 921.6 1126.2 921.6 L1134 921.6 Q1135.2 921.6 1135.2 920.4 L1135.2 915" fill="none" stroke="#141414" stroke-width="1.35" stroke-linejoin="round" stroke-linecap="round"/>
<path d="M1139.2 897.2 Q1143.4 900.4 1146.4 904.4" fill="none" stroke="#141414" stroke-width="1.25" stroke-linejoin="round" stroke-linecap="round"/>
<path d="M1139.2 897.2 L1138 908 L1131.2 916 L1135.2 915.2 Q1136 913 1139.2 913.2 L1139.2 930.8 L1132 925.2" fill="none" stroke="#141414" stroke-width="1.25" stroke-linejoin="round" stroke-linecap="round"/>
<path d="M1146.4 909.6 L1144.4 909.6 Q1143.2 909.6 1143.2 911 L1143.2 933 Q1143.2 934.4 1144.4 934.4 L1146.4 934.4" fill="none" stroke="#141414" stroke-width="1.25" stroke-linejoin="round" stroke-linecap="round"/>
<line x1="1144.9" y1="911" x2="1144.9" y2="933.4" stroke="#141414" stroke-width="0.7"/>
<path d="M1126 925.2 A36.1 36.1 0 0 0 1146.4 940.4" fill="none" stroke="#141414" stroke-width="1.25" stroke-linejoin="round" stroke-linecap="round"/>
<path d="M1191.6 812.4 L1191.6 924.4 L1173.6 924.4" fill="none" stroke="#141414" stroke-width="1.35" stroke-linejoin="round" stroke-linecap="round"/>
<path d="M1188 812.4 L1188 815.8 Q1188 817.2 1186.4 817.2 L1156.4 817.2" fill="none" stroke="#141414" stroke-width="1.35" stroke-linejoin="round" stroke-linecap="round"/>
<path d="M1188 863.2 L1188 824.6 Q1188 821.2 1184.6 821.2 L1156.4 821.2" fill="none" stroke="#141414" stroke-width="1.35" stroke-linejoin="round" stroke-linecap="round"/>
<path d="M1188 863.2 Q1187.9 865.6 1186.5 866.9 A4.3 4.3 0 1 1 1180.3 868.2 L1180.8 866.6 Q1180.8 864.2 1177.2 864.2 Q1173.6 864.2 1173.6 867.6 L1173.6 892 A2 2 0 0 0 1177.6 892 L1177.6 879.6 Q1177.6 878.4 1178.8 878.4 L1186.6 878.4 Q1188.2 878.4 1188.2 880 L1188.2 920 Q1188.2 921.6 1186.6 921.6 L1178.8 921.6 Q1177.6 921.6 1177.6 920.4 L1177.6 915" fill="none" stroke="#141414" stroke-width="1.35" stroke-linejoin="round" stroke-linecap="round"/>
<path d="M1173.6 897.2 Q1169.4 900.4 1166.4 904.4" fill="none" stroke="#141414" stroke-width="1.25" stroke-linejoin="round" stroke-linecap="round"/>
<path d="M1173.6 897.2 L1174.8 908 L1181.6 916 L1177.6 915.2 Q1176.8 913 1173.6 913.2 L1173.6 930.8 L1180.8 925.2" fill="none" stroke="#141414" stroke-width="1.25" stroke-linejoin="round" stroke-linecap="round"/>
<path d="M1166.4 909.6 L1168.4 909.6 Q1169.6 909.6 1169.6 911 L1169.6 933 Q1169.6 934.4 1168.4 934.4 L1166.4 934.4" fill="none" stroke="#141414" stroke-width="1.25" stroke-linejoin="round" stroke-linecap="round"/>
<line x1="1167.9" y1="911" x2="1167.9" y2="933.4" stroke="#141414" stroke-width="0.7"/>
<path d="M1186.8 925.2 A36.1 36.1 0 0 1 1166.4 940.4" fill="none" stroke="#141414" stroke-width="1.25" stroke-linejoin="round" stroke-linecap="round"/>
<line x1="1150" y1="812.4" x2="1150" y2="817.4" stroke="#141414" stroke-width="1.5"/>
<line x1="1162.3" y1="812.4" x2="1162.3" y2="817.4" stroke="#141414" stroke-width="1.5"/>
<polygon points="1149.6,821.6 1163.2,821.6 1169.6,829.2 1143.2,829.2" fill="#fff" stroke="#141414" stroke-width="1.2" stroke-linejoin="round"/>
<line x1="1143.4" y1="829.9" x2="1169.4" y2="829.9" stroke="#141414" stroke-width="1.7"/>
<path d="M1146.2 888.5H1166.2V1026.3H1162.5C1156.5 1026.3 1153.5 1017.2 1146.2 1016Z" fill="#d4ffff" stroke="#d4ffff" stroke-width="0.1" stroke-linejoin="round" stroke-linecap="round"/>
<path d="M1146.2 1016C1153.5 1017.2 1156.5 1026.3 1162.5 1026.3H1166.2" fill="none" stroke="#141414" stroke-width="0.9" stroke-linejoin="round" stroke-linecap="round"/>
<line x1="1146.2" y1="888.5" x2="1146.2" y2="1074" stroke="#333" stroke-width="1"/>
<line x1="1166.2" y1="888.5" x2="1166.2" y2="1074" stroke="#333" stroke-width="1"/>
<line x1="1146.2" y1="888.6" x2="1166.2" y2="888.6" stroke="#333" stroke-width="1"/>
<line x1="1130" y1="831.8" x2="1242.8" y2="831.8" stroke="#141414" stroke-width="1.15"/>
<line x1="1166.2" y1="888.6" x2="1242.8" y2="888.6" stroke="#141414" stroke-width="1.15"/>
<line x1="1231.6" y1="832.2" x2="1231.6" y2="888.2" stroke="#141414" stroke-width="1.15"/>
<polygon points="1231.6,832.2 1233.2,840.7 1230,840.7" fill="#141414"/>
<polygon points="1231.6,888.2 1230,879.7 1233.2,879.7" fill="#141414"/>
<line x1="1191.6" y1="924.6" x2="1258.8" y2="924.6" stroke="#141414" stroke-width="1.15"/>
<line x1="1256.7" y1="812.8" x2="1256.7" y2="924.2" stroke="#141414" stroke-width="1.15"/>
<polygon points="1256.7,812.8 1258.3,821.3 1255.1,821.3" fill="#141414"/>
<polygon points="1256.7,924.2 1255.1,915.7 1258.3,915.7" fill="#141414"/>
<text x="1227.6" y="879.6" font-size="17.5" textLength="36.8" lengthAdjust="spacingAndGlyphs" transform="rotate(-90 1227.6 879.6)">0-20</text>
<text x="1254.8" y="878.3" font-size="17.5" textLength="20.3" lengthAdjust="spacingAndGlyphs" transform="rotate(-90 1254.8 878.3)">34</text>
<line x1="1121.2" y1="924.4" x2="1121.2" y2="1114.5" stroke="#141414" stroke-width="1.15"/>
<line x1="1191.6" y1="924.4" x2="1191.6" y2="1114.5" stroke="#141414" stroke-width="1.15"/>
<line x1="1127.6" y1="1062.3" x2="1146" y2="1062.3" stroke="#141414" stroke-width="1.15"/>
<polygon points="1146,1062.3 1137.5,1063.9 1137.5,1060.7" fill="#141414"/>
<line x1="1185.2" y1="1062.3" x2="1166.4" y2="1062.3" stroke="#141414" stroke-width="1.15"/>
<polygon points="1166.4,1062.3 1174.9,1060.7 1174.9,1063.9" fill="#141414"/>
<text x="1150.8" y="1058.8" font-size="17.5" textLength="10.4" lengthAdjust="spacingAndGlyphs">6</text>
<line x1="1121.8" y1="1102.8" x2="1191" y2="1102.8" stroke="#141414" stroke-width="1.15"/>
<polygon points="1121.8,1102.8 1130.3,1101.2 1130.3,1104.4" fill="#141414"/>
<polygon points="1191,1102.8 1182.5,1104.4 1182.5,1101.2" fill="#141414"/>
<text x="1147.6" y="1099.3" font-size="17.5" textLength="20" lengthAdjust="spacingAndGlyphs">22</text>
</g>
<!-- detail_bl -->
<g>
<clipPath id="hcB"><rect x="291.9" y="1203" width="144.5" height="203.4"/></clipPath>
<g clip-path="url(#hcB)"><line x1="280" y1="1057.4" x2="445" y2="1222.4" stroke="#141414" stroke-width="1.25"/><line x1="280" y1="1097" x2="445" y2="1262" stroke="#141414" stroke-width="1.25"/><line x1="280" y1="1136.6" x2="445" y2="1301.6" stroke="#141414" stroke-width="1.25"/><line x1="280" y1="1176.2" x2="445" y2="1341.2" stroke="#141414" stroke-width="1.25"/><line x1="280" y1="1215.8" x2="445" y2="1380.8" stroke="#141414" stroke-width="1.25"/><line x1="280" y1="1255.4" x2="445" y2="1420.4" stroke="#141414" stroke-width="1.25"/><line x1="280" y1="1295" x2="445" y2="1460" stroke="#141414" stroke-width="1.25"/><line x1="280" y1="1334.6" x2="445" y2="1499.6" stroke="#141414" stroke-width="1.25"/><line x1="280" y1="1374.2" x2="445" y2="1539.2" stroke="#141414" stroke-width="1.25"/></g>
<use href="#dowel" transform="translate(436.5 1243.5) rotate(-90) translate(-1156.4 -812.4)"/>
<line x1="275.2" y1="1243.5" x2="472" y2="1243.5" stroke="#141414" stroke-width="0.8" stroke-dasharray="165 3 2 3 24 3 2 3"/>
<line x1="436.5" y1="1203.2" x2="436.5" y2="1447.6" stroke="#141414" stroke-width="1.1"/>
<path d="M436.6 1222.8H463.2Q464.8 1222.8 464.8 1224.4V1263.6Q464.8 1267 468.6 1267H580.4Q582.9 1267 582.9 1269.6V1282.6" fill="none" stroke="#141414" stroke-width="1.8" stroke-linejoin="round" stroke-linecap="round"/>
<path d="M436.6 1226.8H459.2Q460.6 1226.8 460.6 1228.2V1262.8L457 1267.2H443.4V1259.2H438.6Q437.2 1259.2 437.2 1260.6V1262.4Q437.2 1263.6 438.2 1264.4V1270.8H445L448.6 1274.8V1318H436.6" fill="none" stroke="#141414" stroke-width="1.5" stroke-linejoin="round" stroke-linecap="round"/>
<line x1="436.6" y1="1238" x2="460.4" y2="1238" stroke="#141414" stroke-width="1.6"/>
<line x1="436.6" y1="1249.6" x2="460.4" y2="1249.6" stroke="#141414" stroke-width="1.6"/>
<polygon points="465.4,1237.2 473.2,1230.6 473.2,1257 465.4,1249.2" fill="#fff" stroke="#141414" stroke-width="1.3" stroke-linejoin="round"/>
<line x1="473.7" y1="1230.6" x2="473.7" y2="1257" stroke="#141414" stroke-width="2"/>
<path d="M408.8 1243.5L436.5 1240M408.8 1243.5L436.5 1247.2" fill="none" stroke="#141414" stroke-width="0.8" stroke-linejoin="round" stroke-linecap="round"/>
<path d="M436.6 1322H438.2V1329.2A2.4 2.4 0 0 0 443 1329.2V1323.2H448.6V1349.2H443V1342A2.4 2.4 0 0 0 438.2 1342V1365.2H436.6" fill="none" stroke="#141414" stroke-width="1.5" stroke-linejoin="round" stroke-linecap="round"/>
<path d="M452.6 1352.8H442.2V1362L446.2 1365.9H567.7L571.2 1363.4H575.9" fill="none" stroke="#141414" stroke-width="1.5" stroke-linejoin="round" stroke-linecap="round"/>
<path d="M567.7 1271H457.6L452.6 1275.6V1352.8" fill="none" stroke="#141414" stroke-width="1.6" stroke-linejoin="round" stroke-linecap="round"/>
<path d="M567.7 1271L571.2 1273.7H575.9" fill="none" stroke="#141414" stroke-width="1.5" stroke-linejoin="round" stroke-linecap="round"/>
<line x1="576.6" y1="1266.8" x2="576.6" y2="1275.2" stroke="#141414" stroke-width="1.6"/>
<line x1="576.6" y1="1361.8" x2="576.6" y2="1370.4" stroke="#141414" stroke-width="1.6"/>
<path d="M436.6 1370.2H580.4Q582.9 1370.2 582.9 1367.6V1354.6" fill="none" stroke="#141414" stroke-width="1.8" stroke-linejoin="round" stroke-linecap="round"/>
<path d="M577.4 1275H457.4Q454.2 1275 454.2 1278.2V1359Q454.2 1362.2 457.4 1362.2H577.4" fill="none" stroke="#141414" stroke-width="1.8" stroke-linejoin="round" stroke-linecap="round"/>
<path d="M660 1282.8H461V1351.8H583" fill="none" stroke="#141414" stroke-width="2" stroke-linejoin="round" stroke-linecap="round"/>
<line x1="461" y1="1288" x2="529.8" y2="1288" stroke="#141414" stroke-width="1.6"/>
<line x1="461" y1="1317.6" x2="529.8" y2="1317.6" stroke="#141414" stroke-width="1.6"/>
<line x1="461" y1="1324.4" x2="529.8" y2="1324.4" stroke="#141414" stroke-width="1.6"/>
<line x1="461" y1="1347.6" x2="529.8" y2="1347.6" stroke="#141414" stroke-width="1.6"/>
<line x1="529.8" y1="1282.8" x2="529.8" y2="1351.8" stroke="#141414" stroke-width="1.7"/>
<line x1="529.8" y1="1286.7" x2="661" y2="1286.7" stroke="#141414" stroke-width="1.5"/>
<line x1="529.8" y1="1319.4" x2="653.4" y2="1319.4" stroke="#141414" stroke-width="1.6"/>
<line x1="583" y1="1353.4" x2="673.5" y2="1353.4" stroke="#141414" stroke-width="1.6"/>
<path d="M660.5 1283.5C662.5 1291 656.5 1306 654.2 1315C651.5 1326 654.5 1329.5 662 1331C670 1332.6 676 1333.5 676.8 1341C677.2 1346 675 1350 673.5 1353.4" fill="none" stroke="#141414" stroke-width="0.9" stroke-linejoin="round" stroke-linecap="round"/>
<line x1="464.8" y1="1222.6" x2="782.7" y2="1222.6" stroke="#141414" stroke-width="1.15"/>
<line x1="583" y1="1266.8" x2="748.9" y2="1266.8" stroke="#141414" stroke-width="1.15"/>
<line x1="660.5" y1="1283.5" x2="716.5" y2="1283.5" stroke="#141414" stroke-width="1.15"/>
<line x1="673.5" y1="1353.4" x2="716.5" y2="1353.4" stroke="#141414" stroke-width="1.15"/>
<line x1="583" y1="1370.3" x2="782.7" y2="1370.3" stroke="#141414" stroke-width="1.15"/>
<line x1="704.7" y1="1283.9" x2="704.7" y2="1353" stroke="#141414" stroke-width="1.15"/>
<polygon points="704.7,1283.9 706.3,1292.4 703.1,1292.4" fill="#141414"/>
<polygon points="704.7,1353 703.1,1344.5 706.3,1344.5" fill="#141414"/>
<line x1="737.3" y1="1267.2" x2="737.3" y2="1369.9" stroke="#141414" stroke-width="1.15"/>
<polygon points="737.3,1267.2 738.9,1275.7 735.7,1275.7" fill="#141414"/>
<polygon points="737.3,1369.9 735.7,1361.4 738.9,1361.4" fill="#141414"/>
<line x1="770.5" y1="1223" x2="770.5" y2="1369.9" stroke="#141414" stroke-width="1.15"/>
<polygon points="770.5,1223 772.1,1231.5 768.9,1231.5" fill="#141414"/>
<polygon points="770.5,1369.9 768.9,1361.4 772.1,1361.4" fill="#141414"/>
<text x="702.1" y="1329.1" font-size="17.5" textLength="19" lengthAdjust="spacingAndGlyphs" transform="rotate(-90 702.1 1329.1)">19</text>
<text x="734.1" y="1331.7" font-size="17.5" textLength="19.8" lengthAdjust="spacingAndGlyphs" transform="rotate(-90 734.1 1331.7)">28</text>
<text x="767.9" y="1311.7" font-size="17.5" textLength="19.8" lengthAdjust="spacingAndGlyphs" transform="rotate(-90 767.9 1311.7)">40</text>
<line x1="460.4" y1="1352" x2="460.4" y2="1417.9" stroke="#141414" stroke-width="1.15"/>
<line x1="529.6" y1="1352" x2="529.6" y2="1417.9" stroke="#141414" stroke-width="1.15"/>
<line x1="577.2" y1="1370.4" x2="577.2" y2="1447.6" stroke="#141414" stroke-width="1.15"/>
<line x1="461" y1="1405.9" x2="529" y2="1405.9" stroke="#141414" stroke-width="1.15"/>
<polygon points="461,1405.9 469.5,1404.3 469.5,1407.5" fill="#141414"/>
<polygon points="529,1405.9 520.5,1407.5 520.5,1404.3" fill="#141414"/>
<line x1="437.1" y1="1435.5" x2="576.7" y2="1435.5" stroke="#141414" stroke-width="1.15"/>
<polygon points="437.1,1435.5 445.6,1433.9 445.6,1437.1" fill="#141414"/>
<polygon points="576.7,1435.5 568.2,1437.1 568.2,1433.9" fill="#141414"/>
<text x="476.6" y="1401.8" font-size="17.5" textLength="37.1" lengthAdjust="spacingAndGlyphs">0-20</text>
<text x="494.2" y="1432.6" font-size="17.5" textLength="20.7" lengthAdjust="spacingAndGlyphs">40</text>
</g>
<!-- table -->
<g>
<rect x="845.3" y="1252.7" width="233.4" height="115.9" fill="#fff" stroke="#141414" stroke-width="1.1"/>
<line x1="845.3" y1="1276.1" x2="1078.7" y2="1276.1" stroke="#141414" stroke-width="1.3"/>
<line x1="845.3" y1="1299.5" x2="1078.7" y2="1299.5" stroke="#141414" stroke-width="1"/>
<line x1="845.3" y1="1322.7" x2="1078.7" y2="1322.7" stroke="#141414" stroke-width="1"/>
<line x1="845.3" y1="1345.7" x2="1078.7" y2="1345.7" stroke="#141414" stroke-width="1"/>
<line x1="989.5" y1="1252.7" x2="989.5" y2="1368.6" stroke="#141414" stroke-width="1"/>
<text x="1027.8" y="1270.3" font-size="17.5">B</text>
<text x="852.3" y="1293.4" font-size="17.5" textLength="122" lengthAdjust="spacingAndGlyphs">EL1615-EL3115</text>
<text x="996.5" y="1293.4" font-size="17.5" textLength="65.2" lengthAdjust="spacingAndGlyphs">680-700</text>
<text x="852.3" y="1316.6" font-size="17.5" textLength="122" lengthAdjust="spacingAndGlyphs">EL1615-EL3215</text>
<text x="996.5" y="1316.6" font-size="17.5" textLength="65.2" lengthAdjust="spacingAndGlyphs">780-800</text>
<text x="852.3" y="1340" font-size="17.5" textLength="122" lengthAdjust="spacingAndGlyphs">EL1615-EL3315</text>
<text x="996.5" y="1340" font-size="17.5" textLength="65.2" lengthAdjust="spacingAndGlyphs">880-900</text>
<text x="852.3" y="1363.1" font-size="17.5" textLength="122" lengthAdjust="spacingAndGlyphs">EL1615-EL3415</text>
<text x="996.5" y="1363.1" font-size="17.5" textLength="74.9" lengthAdjust="spacingAndGlyphs">980-1000</text>
</g>
</svg>
</body></html>
